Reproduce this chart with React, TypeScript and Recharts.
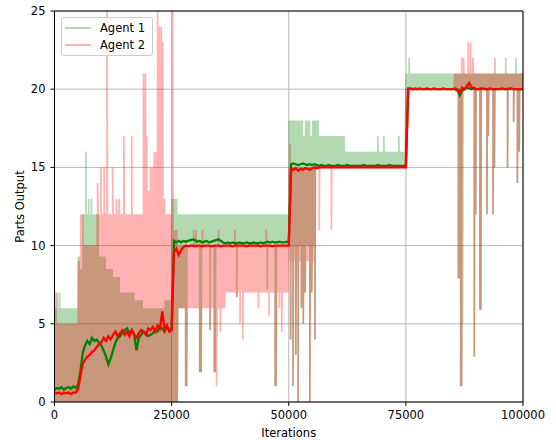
import React from 'react';
import { LineChart, Line, XAxis, YAxis, CartesianGrid, Legend, ReferenceLine } from 'recharts';

const X_MAX = 100000;
const X_TICKS = [0, 25000, 50000, 75000, 100000];
const Y_TICKS = [0, 5, 10, 15, 20, 25];
const ZIG_STEP = 100;
const SMOOTH_STEP = 500;

// raw output per episode, read as bands the value swings inside: [from, to, low, high]
const AGENT1_BANDS = [
  [0, 5000, 0, 6],
  [5000, 5500, 0, 9.3],
  [5500, 6000, 0, 8.5],
  [6000, 9500, 0, 12],
  [9500, 11000, 0, 9.3],
  [11000, 12500, 0, 8.5],
  [12500, 14000, 0, 8],
  [14000, 17000, 0, 7],
  [17000, 18800, 0, 6.5],
  [18800, 23500, 0, 6],
  [23500, 25000, 0, 6.5],
  [25000, 26300, 0, 13],
  [26300, 28000, 6, 12],
  [28000, 50000, 10, 12],
  [50000, 53000, 10, 18],
  [53000, 53500, 10, 17],
  [53500, 54500, 10, 18],
  [54500, 55000, 10, 17],
  [55000, 55600, 10, 18],
  [55600, 56500, 15, 18],
  [56500, 62000, 15, 17],
  [62000, 75000, 15, 16],
  [75000, 100000, 20, 21],
];

const AGENT2_BANDS = [
  [0, 5000, 0, 5],
  [5000, 5500, 0, 9],
  [5500, 6200, 0, 12],
  [6200, 9000, 0, 10],
  [9000, 25000, 0, 12],
  [25000, 26300, 0, 11],
  [26300, 36400, 6, 10],
  [36400, 50000, 7, 10],
  [50000, 55600, 9, 15],
  [55600, 75000, 15, 15],
  [75000, 85300, 20, 20],
  [85300, 100000, 20, 21],
];

// single spikes [iteration, value]
const AGENT1_SPIKES = [
  [600, 7], [1100, 7], [6700, 16], [7300, 13], [7900, 13],
  [69000, 17], [70300, 17], [73500, 17], [75700, 22], [87100, 5], [96300, 22], [98500, 22],
];

const AGENT2_SPIKES = [
  [300, 7], [9200, 14], [9900, 15], [10600, 15], [11200, 26], [12400, 15], [13200, 13],
  [13800, 13], [14800, 17], [16500, 17], [19000, 21], [19400, 21], [19700, 17], [20100, 13.5],
  [20500, 15], [20900, 15], [21300, 16], [21700, 16], [22000, 26], [22400, 24], [22800, 24],
  [23100, 23], [23500, 13], [25200, 26],
  [29700, 11], [30200, 11], [31600, 11], [35000, 11], [38500, 11], [45200, 11],
  [34600, 1], [35400, 4.5], [39600, 5], [40200, 4], [43500, 6], [45800, 5.5], [48000, 6], [48500, 4.5],
  [50300, 16.5], [56500, 11], [59100, 11],
  [86900, 22], [87300, 22], [88300, 23], [88800, 23], [89300, 22], [94000, 22],
];

// drops both agents share
const JOINT_DIPS = [
  [26100, 0.6], [28000, 1], [28200, 1], [31000, 1.9], [31300, 1.9], [33200, 4.6], [34100, 1.9],
  [34300, 1.9], [38900, 6.7], [45400, 7.2], [47100, 1], [47300, 1],
  [50400, 4], [50900, 1], [51500, 3], [52000, 0], [52700, 6], [53100, 5], [53500, 7], [54500, 0],
  [54900, 7], [55600, 4],
  [86200, 7.9], [86500, 7.9], [86700, 1], [86900, 1], [89600, 2.9], [89900, 12], [90800, 5.9],
  [91000, 5.9], [92300, 12], [92600, 17], [93600, 12], [93900, 15], [96700, 15], [98000, 17.9],
  [98800, 14], [99200, 16],
];

// running mean, one value every 500 iterations
const AGENT1_SMOOTH = [
  0.8, 0.9, 0.85, 0.95, 0.8, 0.9, 0.95, 0.85, 1.0, 0.9,
  1.1, 1.9, 3.1, 3.6, 3.9, 3.7, 4.1, 3.9, 4.0, 3.8,
  3.6, 3.3, 2.9, 2.4, 2.8, 3.3, 3.8, 4.1, 4.2, 4.4,
  4.6, 4.7, 4.4, 4.6, 4.3, 3.3, 4.1, 4.3, 4.5, 4.4,
  4.2, 4.3, 4.4, 4.6, 4.5, 4.8, 4.7, 4.5, 4.8, 4.6,
  4.7, 10.3, 10.2, 10.3, 10.2, 10.3, 10.25, 10.3, 10.35, 10.4,
  10.35, 10.25, 10.3, 10.2, 10.25, 10.3, 10.2, 10.25, 10.3, 10.35,
  10.4, 10.3, 10.2, 10.15, 10.2, 10.15, 10.2, 10.15, 10.15, 10.2,
  10.15, 10.15, 10.2, 10.15, 10.15, 10.2, 10.15, 10.15, 10.2, 10.15,
  10.2, 10.25, 10.2, 10.25, 10.2, 10.2, 10.25, 10.2, 10.2, 10.25,
  10.2, 15.2, 15.25, 15.2, 15.15, 15.2, 15.25, 15.2, 15.15, 15.2,
  15.15, 15.2, 15.15, 15.1, 15.15, 15.1, 15.1, 15.15, 15.1, 15.1,
  15.1, 15.15, 15.1, 15.1, 15.1, 15.15, 15.1, 15.1, 15.1, 15.1,
  15.1, 15.1, 15.15, 15.1, 15.1, 15.1, 15.1, 15.1, 15.15, 15.1,
  15.1, 15.1, 15.1, 15.15, 15.1, 15.1, 15.1, 15.1, 15.1, 15.1,
  15.1, 20.05, 20.05, 20.0, 20.05, 20.0, 20.05, 20.0, 20.0, 20.05,
  20.0, 20.0, 20.05, 20.0, 20.0, 20.0, 20.05, 20.0, 20.0, 20.0,
  20.0, 20.05, 20.0, 19.6, 19.9, 20.0, 20.1, 20.05, 20.0, 20.05,
  20.0, 20.0, 20.05, 20.0, 20.0, 20.0, 20.05, 20.0, 20.0, 20.0,
  20.0, 20.05, 20.0, 20.0, 20.0, 20.05, 20.0, 20.0, 20.0, 20.0,
  20.0,
];

const AGENT2_SMOOTH = [
  0.6, 0.55, 0.6, 0.5, 0.6, 0.55, 0.6, 0.5, 0.6, 0.6,
  0.8, 1.6, 2.4, 2.7, 2.9, 3.0, 3.2, 3.3, 3.5, 3.7,
  3.8, 4.1, 3.9, 4.2, 4.0, 4.3, 4.5, 4.2, 4.4, 4.6,
  4.3, 4.5, 4.2, 4.6, 4.3, 4.1, 4.4, 4.6, 4.5, 4.3,
  4.7, 4.6, 4.8, 4.5, 4.9, 4.7, 5.8, 4.6, 4.9, 4.5,
  4.6, 9.6, 9.8, 9.4, 9.7, 9.9, 10.0, 9.95, 10.0, 10.0,
  9.95, 10.0, 10.0, 9.95, 10.0, 10.0, 10.0, 9.95, 10.0, 10.0,
  10.0, 9.95, 10.0, 10.0, 10.0, 10.0, 9.95, 10.0, 10.0, 10.0,
  10.0, 10.0, 9.95, 10.0, 10.0, 10.0, 10.0, 10.0, 9.95, 10.0,
  10.0, 10.0, 10.0, 9.95, 10.0, 10.0, 10.0, 10.0, 10.0, 10.0,
  10.0, 14.9, 14.85, 14.95, 14.8, 14.9, 14.85, 14.95, 14.9, 14.85,
  14.95, 15.0, 14.95, 15.0, 15.0, 15.0, 15.0, 15.0, 15.0, 15.0,
  15.0, 15.0, 15.0, 15.0, 15.0, 15.0, 15.0, 15.0, 15.0, 15.0,
  15.0, 15.0, 15.0, 15.0, 15.0, 15.0, 15.0, 15.0, 15.0, 15.0,
  15.0, 15.0, 15.0, 15.0, 15.0, 15.0, 15.0, 15.0, 15.0, 15.0,
  15.0, 20.0, 20.0, 20.0, 20.0, 20.0, 20.0, 20.0, 20.0, 20.0,
  20.0, 20.0, 20.0, 20.0, 20.0, 20.0, 20.0, 20.0, 20.0, 20.0,
  20.0, 20.0, 19.9, 19.8, 20.1, 20.0, 20.2, 20.4, 20.1, 20.1,
  20.0, 20.0, 20.0, 20.05, 20.0, 20.0, 20.0, 20.0, 20.0, 20.0,
  20.0, 20.0, 20.0, 20.0, 20.05, 20.0, 20.0, 20.0, 20.0, 20.0,
  20.0,
];

const FONT = "'DejaVu Sans', sans-serif";

// raw signal flips between low and high of each band, spikes are slotted in by iteration
const buildRaw = (bands: number[][], spikes: number[][]) => {
  const pts: { x: number; y: number }[] = [];
  bands.forEach(([from, to, lo, hi]) => {
    let k = 0;
    for (let x = from; x < to; x += ZIG_STEP) {
      pts.push({ x, y: k % 2 === 0 ? lo : hi });
      k++;
    }
  });
  const last = bands[bands.length - 1];
  pts.push({ x: last[1], y: last[3] });
  spikes.forEach(([x, y]) => pts.push({ x, y }));
  return pts.sort((a, b) => a.x - b.x);
};

const raw1 = buildRaw(AGENT1_BANDS, [...AGENT1_SPIKES, ...JOINT_DIPS]);
const raw2 = buildRaw(AGENT2_BANDS, [...AGENT2_SPIKES, ...JOINT_DIPS]);
const smooth1 = AGENT1_SMOOTH.map((y, i) => ({ x: i * SMOOTH_STEP, y }));
const smooth2 = AGENT2_SMOOTH.map((y, i) => ({ x: i * SMOOTH_STEP, y }));

const LegendBox = ({ payload }: any) => {
  const items = (payload || []).filter((p: any) => p.type !== 'none');
  return (
    <div style={{
      border: '1px solid #cccccc',
      borderRadius: 3,
      background: 'rgba(255,255,255,0.8)',
      padding: '1px 7px 2px 3px',
      fontFamily: FONT,
      fontSize: 11.5,
      color: '#000',
    }}>
      {items.map((it: any) => (
        <div key={it.value} style={{ display: 'flex', alignItems: 'center', height: 17 }}>
          <svg width={26} height={4} style={{ display: 'block' }}>
            <line x1={0} y1={2} x2={26} y2={2} stroke={it.color} strokeOpacity={0.3} strokeWidth={2} />
          </svg>
          <span style={{ marginLeft: 9, whiteSpace: 'nowrap' }}>{it.value}</span>
        </div>
      ))}
    </div>
  );
};

const tickStyle = { fill: '#000', fontFamily: FONT, fontSize: 11.5 };

export default function App() {
  return (
    <div style={{ width: 556, height: 440, background: '#fff' }}>
      <style>{'body { margin: 0; }'}</style>
      <LineChart width={556} height={440} margin={{ top: 11, right: 33, bottom: 0, left: 0 }}>
        <CartesianGrid stroke="#b0b0b0" strokeWidth={0.9} />
        <XAxis
          dataKey="x"
          type="number"
          domain={[0, X_MAX]}
          ticks={X_TICKS}
          allowDataOverflow
          height={38}
          tick={tickStyle}
          tickSize={4}
          tickMargin={5}
          axisLine={{ stroke: '#000' }}
          tickLine={{ stroke: '#000' }}
          label={{ value: 'Iterations', position: 'insideBottom', offset: 3, fill: '#000', fontFamily: FONT, fontSize: 11.5 }}
        />
        <YAxis
          type="number"
          domain={[0, 25]}
          ticks={Y_TICKS}
          allowDataOverflow
          width={54.5}
          tick={tickStyle}
          tickSize={4}
          tickMargin={5}
          axisLine={{ stroke: '#000' }}
          tickLine={{ stroke: '#000' }}
          label={{ value: 'Parts Output', angle: -90, position: 'insideLeft', offset: 20, fill: '#000', fontFamily: FONT, fontSize: 11.5, style: { textAnchor: 'middle' } }}
        />
        <Legend
          layout="vertical"
          align="center"
          verticalAlign="middle"
          wrapperStyle={{ top: 17, left: 61, width: 'auto' }}
          content={<LegendBox />}
        />
        <Line data={raw1} dataKey="y" name="Agent 1" stroke="#008000" strokeOpacity={0.3} strokeWidth={1.7} dot={false} activeDot={false} isAnimationActive={false} />
        <Line data={raw2} dataKey="y" name="Agent 2" stroke="#ff0000" strokeOpacity={0.3} strokeWidth={1.7} dot={false} activeDot={false} isAnimationActive={false} />
        <Line data={smooth1} dataKey="y" name="Agent 1 mean" legendType="none" stroke="#008000" strokeWidth={2.3} dot={false} activeDot={false} isAnimationActive={false} />
        <Line data={smooth2} dataKey="y" name="Agent 2 mean" legendType="none" stroke="#ff0000" strokeWidth={2.3} dot={false} activeDot={false} isAnimationActive={false} />
        <ReferenceLine y={25} stroke="#000" strokeWidth={1} />
        <ReferenceLine x={X_MAX} stroke="#000" strokeWidth={1} />
      </LineChart>
    </div>
  );
}
